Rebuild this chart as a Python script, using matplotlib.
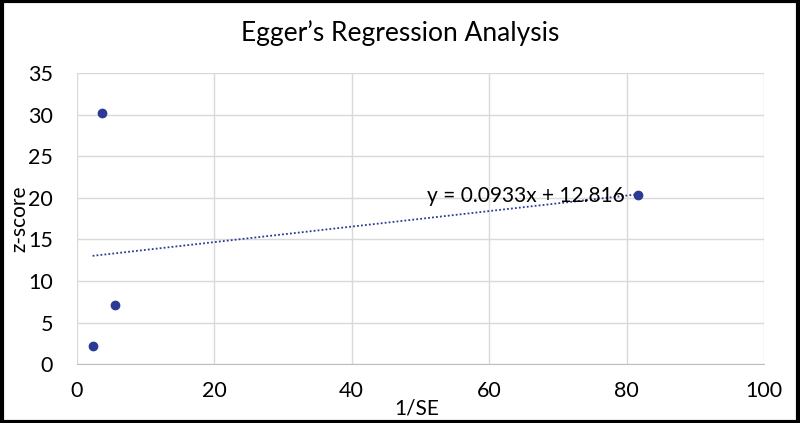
import matplotlib
matplotlib.use("Agg")
import matplotlib.pyplot as plt
import numpy as np

plt.rcParams['font.family'] = ['Lato', 'DejaVu Sans']

inv_se = [2.3, 3.6, 5.5, 81.7]
z_score = [2.2, 30.2, 7.1, 20.4]
slope = 0.0933
intercept = 12.816
x_ticks = [0, 20, 40, 60, 80, 100]
y_ticks = [0, 5, 10, 15, 20, 25, 30, 35]

fig = plt.figure(figsize=(8, 4.23), dpi=100)
ax = fig.add_axes([0.096, 0.139, 0.859, 0.688])
ax.set_xlim(0, 100)
ax.set_ylim(0, 35)
ax.set_xticks(x_ticks)
ax.set_yticks(y_ticks)
ax.grid(True, color='#d9d9d9', linewidth=1)
ax.set_axisbelow(True)
for s in ax.spines.values():
    s.set_visible(False)
ax.spines['bottom'].set_visible(True)
ax.spines['bottom'].set_color('#bfbfbf')
ax.tick_params(length=0, labelsize=15.5, colors='black')
ax.tick_params(axis='x', pad=12)
ax.tick_params(axis='y', pad=17)

color = '#2B3A96'
xs = np.array([min(inv_se), max(inv_se)])
ax.plot(xs, slope * xs + intercept, linestyle=(0, (1, 1.2)), color=color, linewidth=1.3)
ax.scatter(inv_se, z_score, s=36, color=color, zorder=3)

ax.text(65.4, 20.2, f"y = {slope}x + {intercept}", fontsize=15, ha='center', va='center')

ax.set_xlabel('1/SE', fontsize=15, va='center')
ax.set_ylabel('z-score', fontsize=15, va='center')
ax.xaxis.set_label_coords(0.495, -0.151)
ax.yaxis.set_label_coords(-0.084, 0.5)
fig.text(0.5, 0.922, 'Egger\u2019s Regression Analysis', fontsize=19, ha='center', va='center')

fig.patches.append(plt.Rectangle((0.002, 0.003), 0.996, 0.994, transform=fig.transFigure,
                                 fill=False, edgecolor='black', linewidth=3))
fig.savefig('out.png', dpi=100)
